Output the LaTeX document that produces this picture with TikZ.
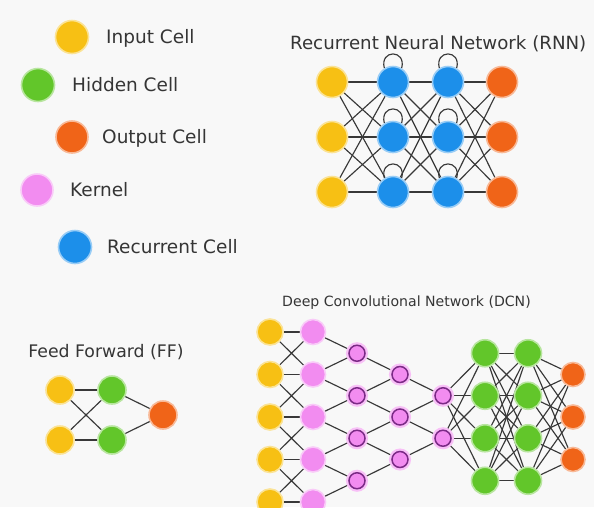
\documentclass[tikz,border=0pt]{standalone}
\usepackage{fontspec}
\setmainfont{DejaVu Sans}
\usepackage{xcolor}
\usepackage{tikz}
\definecolor{paper}{HTML}{F8F8F8}
\definecolor{inputc}{HTML}{F7C014}
\definecolor{hiddenc}{HTML}{62C62A}
\definecolor{outputc}{HTML}{F06418}
\definecolor{kernelc}{HTML}{F28CF0}
\definecolor{recurc}{HTML}{1C8FEA}
\definecolor{ringc}{HTML}{7B2A86}
\definecolor{wirec}{HTML}{383838}
\definecolor{textc}{HTML}{353535}
\pgfdeclarelayer{background}
\pgfdeclarelayer{wires}
\pgfsetlayers{background,wires,main}

\begin{document}
\begin{tikzpicture}[x=1pt, y=-1pt,
  cell/.style={circle, inner sep=0pt, minimum size=#1, line width=1.6pt},
  incell/.style={cell=#1, fill=inputc, draw=inputc!45},
  hidcell/.style={cell=#1, fill=hiddenc, draw=hiddenc!45},
  outcell/.style={cell=#1, fill=outputc, draw=outputc!45},
  kercell/.style={cell=#1, fill=kernelc, draw=kernelc!45},
  reccell/.style={cell=#1, fill=recurc, draw=recurc!45},
  convcell/.style={cell=16pt, fill=kernelc, draw=ringc, line width=1.5pt,
    preaction={draw=kernelc!55, line width=6pt}},
  wire/.style={draw=wirec, line width=1.15pt},
  legend/.style={anchor=base west, inner sep=0pt, text=textc,
    font=\fontsize{18.5pt}{22pt}\selectfont},
  heading/.style={anchor=base, inner sep=0pt, text=textc,
    font=\fontsize{#1}{#1}\selectfont}]
  \useasboundingbox (0,0) rectangle (594,507);
  \begin{pgfonlayer}{background}
    \fill[paper] (0,0) rectangle (594,507);
  \end{pgfonlayer}

  % legend
  \node[incell=33pt] (lgin) at (72,37) {};
  \node[legend] (lgintext) at (106,43.7) {Input Cell};
  \node[hidcell=33pt] (lghid) at (38,85) {};
  \node[legend] (lghidtext) at (72,91.7) {Hidden Cell};
  \node[outcell=32pt] (lgout) at (72,137) {};
  \node[legend] (lgouttext) at (102,143.7) {Output Cell};
  \node[kercell=32pt] (lgker) at (37,190) {};
  \node[legend] (lgkertext) at (70,196.7) {Kernel};
  \node[reccell=33pt] (lgrec) at (75,247) {};
  \node[legend] (lgrectext) at (107,253.7) {Recurrent Cell};

  % recurrent network
  \node[heading=18.2pt, anchor=base west] (rnntitle) at (290,49) {Recurrent Neural Network (RNN)};
  \foreach \y [count=\r] in {82,137,192} {
    \node[incell=31pt] (ri\r) at (332,\y) {};
    \node[reccell=31pt] (ra\r) at (393,\y) {};
    \node[reccell=31pt] (rb\r) at (448,\y) {};
    \node[outcell=31pt] (ro\r) at (502,\y) {};
  }
  \begin{pgfonlayer}{wires}
    \foreach \i in {1,2,3} {
      \foreach \j in {1,2,3}
        \draw[wire] (ri\i) -- (ra\j) (ra\i) -- (rb\j) (rb\i) -- (ro\j);
      \draw[wire] (ra\i.122) .. controls +(-5,-19) and +(5,-19) .. (ra\i.58);
      \draw[wire] (rb\i.122) .. controls +(-5,-19) and +(5,-19) .. (rb\i.58);
    }
  \end{pgfonlayer}

  % feed forward
  \node[heading=17.3pt] (fftitle) at (106,357) {Feed Forward (FF)};
  \node[incell=28pt] (fi1) at (60,390) {};
  \node[incell=28pt] (fi2) at (60,440) {};
  \node[hidcell=28pt] (fh1) at (112,390) {};
  \node[hidcell=28pt] (fh2) at (112,440) {};
  \node[outcell=28pt] (fo) at (163,415) {};
  \begin{pgfonlayer}{wires}
    \foreach \i in {1,2} {
      \foreach \j in {1,2}
        \draw[wire] (fi\i) -- (fh\j);
      \draw[wire] (fh\i) -- (fo);
    }
  \end{pgfonlayer}

  % deep convolutional network
  \node[heading=14.1pt] (dcntitle) at (406.5,306.5) {Deep Convolutional Network (DCN)};
  \foreach \i [evaluate=\i as \y using 332+42.5*(\i-1)] in {1,...,5} {
    \node[incell=26pt] (di\i) at (270,\y) {};
    \node[kercell=25pt] (dk\i) at (313,\y) {};
  }
  \foreach \i [evaluate=\i as \y using 353.25+42.5*(\i-1)] in {1,...,4} {
    \node[convcell] (dc\i) at (357,\y) {};
    \node[hidcell=27pt] (dh\i) at (485,\y) {};
    \node[hidcell=27pt] (dg\i) at (528,\y) {};
  }
  \foreach \i [evaluate=\i as \y using 374.5+42.5*(\i-1)] in {1,...,3} {
    \node[convcell] (dd\i) at (400,\y) {};
    \node[outcell=24pt] (do\i) at (573,\y) {};
  }
  \foreach \i [evaluate=\i as \y using 395.75+42.5*(\i-1)] in {1,2}
    \node[convcell] (de\i) at (443,\y) {};
  \begin{pgfonlayer}{wires}
    \foreach \i in {1,...,5}
      \draw[wire] (di\i) -- (dk\i);
    \foreach \i [evaluate=\i as \j using int(\i+1)] in {1,...,4}
      \draw[wire] (di\i) -- (dk\j) (di\j) -- (dk\i) (dk\i) -- (dc\i) (dk\j) -- (dc\i);
    \foreach \i [evaluate=\i as \j using int(\i+1)] in {1,...,3}
      \draw[wire] (dc\i) -- (dd\i) (dc\j) -- (dd\i);
    \foreach \i [evaluate=\i as \j using int(\i+1)] in {1,2}
      \draw[wire] (dd\i) -- (de\i) (dd\j) -- (de\i);
    \foreach \i in {1,...,4} {
      \foreach \j in {1,2}
        \draw[wire] (de\j) -- (dh\i);
      \foreach \j in {1,...,4}
        \draw[wire] (dh\i) -- (dg\j);
      \foreach \j in {1,...,3}
        \draw[wire] (dg\i) -- (do\j);
    }
  \end{pgfonlayer}
\end{tikzpicture}
\end{document}
